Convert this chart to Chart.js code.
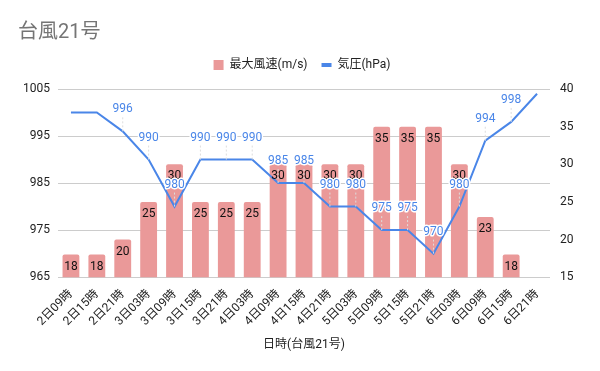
<!DOCTYPE html>
<html lang="ja">
<head>
  <meta charset="UTF-8" />
  <title>台風21号</title>
  <script src="https://cdn.jsdelivr.net/npm/chart.js"></script>
  <style>
    * { margin: 0; padding: 0; box-sizing: border-box; }
    body { background: #fff; width: 600px; height: 371px; overflow: hidden; }
    .chart-container { position: relative; width: 600px; height: 371px; }
  </style>
</head>
<body>
  <div class="chart-container">
    <canvas id="typhoonChart"></canvas>
  </div>

  <script>
    // 日時ラベル
    const timeLabels = [
      '2日09時', '2日15時', '2日21時', '3日03時', '3日09時', '3日15時', '3日21時',
      '4日03時', '4日09時', '4日15時', '4日21時', '5日03時', '5日09時', '5日15時',
      '5日21時', '6日03時', '6日09時', '6日15時', '6日21時'
    ];
    // 最大風速(m/s)
    const windSpeed = [18, 18, 20, 25, 30, 25, 25, 25, 30, 30, 30, 30, 35, 35, 35, 30, 23, 18, null];
    // 気圧(hPa)
    const pressure = [1000, 1000, 996, 990, 980, 990, 990, 990, 985, 985, 980, 980, 975, 975, 970, 980, 994, 998, 1004];
    // ラベルを表示しない気圧の点
    const hiddenPressureLabels = [0, 1, 18];
    // 目盛り
    const pressureTicks = [965, 975, 985, 995, 1005];
    const windTicks = [15, 20, 25, 30, 35, 40];

    const FONT = "Roboto, 'Noto Sans CJK JP', sans-serif";
    const BAR_COLOR = '#ea9999';
    const LINE_COLOR = '#4a86e8';

    // 値ラベルを描く簡単なプラグイン
    const valueLabels = {
      id: 'valueLabels',
      afterDatasetsDraw(chart) {
        const ctx = chart.ctx;
        ctx.save();
        ctx.font = '12px ' + FONT;
        ctx.textAlign = 'center';
        ctx.textBaseline = 'middle';

        // 棒のラベル
        chart.getDatasetMeta(0).data.forEach((bar, i) => {
          if (windSpeed[i] == null) return;
          ctx.fillStyle = '#111';
          ctx.fillText(windSpeed[i], bar.x, bar.y + 12);
        });

        // 折れ線のラベル
        chart.getDatasetMeta(1).data.forEach((pt, i) => {
          if (hiddenPressureLabels.includes(i)) return;
          ctx.strokeStyle = '#ddd';
          ctx.lineWidth = 1;
          ctx.setLineDash([2, 2]);
          ctx.beginPath();
          ctx.moveTo(pt.x, pt.y - 14);
          ctx.lineTo(pt.x, pt.y);
          ctx.stroke();
          ctx.setLineDash([]);
          ctx.lineWidth = 3;
          ctx.strokeStyle = '#fff';
          ctx.lineJoin = 'round';
          ctx.strokeText(pressure[i], pt.x, pt.y - 22);
          ctx.fillStyle = LINE_COLOR;
          ctx.fillText(pressure[i], pt.x, pt.y - 22);
        });
        ctx.restore();
      }
    };

    // 凡例の下に余白を足す
    const legendGap = {
      id: 'legendGap',
      beforeInit(chart) {
        const fit = chart.legend.fit;
        chart.legend.fit = function () {
          fit.bind(chart.legend)();
          this.height += 8;
        };
      }
    };

    new Chart(document.getElementById('typhoonChart'), {
      data: {
        labels: timeLabels,
        datasets: [
          {
            type: 'bar',
            label: '最大風速(m/s)',
            data: windSpeed,
            yAxisID: 'y1',
            backgroundColor: BAR_COLOR,
            borderRadius: { topLeft: 2, topRight: 2 },
            borderSkipped: 'start',
            categoryPercentage: 1,
            barPercentage: 0.65,
            order: 2
          },
          {
            type: 'line',
            label: '気圧(hPa)',
            data: pressure,
            yAxisID: 'y',
            borderColor: LINE_COLOR,
            backgroundColor: LINE_COLOR,
            borderWidth: 2,
            pointRadius: 0,
            tension: 0,
            order: 1
          }
        ]
      },
      options: {
        responsive: true,
        maintainAspectRatio: false,
        animation: false,
        layout: { padding: { left: 18, right: 14, top: 14, bottom: 15 } },
        plugins: {
          title: {
            display: true,
            text: '台風21号',
            align: 'start',
            color: '#757575',
            font: { family: FONT, size: 20, weight: 'normal' },
            padding: { top: 7, bottom: 0 }
          },
          legend: {
            position: 'top',
            labels: {
              color: '#222',
              font: { family: FONT, size: 12 },
              boxWidth: 10,
              boxHeight: 10,
              pointStyleWidth: 10,
              padding: 14,
              usePointStyle: true,
              sort: (a, b) => a.datasetIndex - b.datasetIndex,
              generateLabels(chart) {
                const items = Chart.defaults.plugins.legend.labels.generateLabels(chart);
                items.forEach(item => {
                  if (item.datasetIndex === 0) {
                    item.pointStyle = 'rect';
                    item.lineWidth = 0;
                  } else {
                    item.pointStyle = 'line';
                    item.lineWidth = 4;
                    item.strokeStyle = LINE_COLOR;
                  }
                });
                return items;
              }
            }
          },
          tooltip: { enabled: false }
        },
        scales: {
          x: {
            grid: { display: false },
            border: { display: false },
            ticks: {
              color: '#222',
              font: { family: FONT, size: 12 },
              maxRotation: 45,
              minRotation: 45,
              autoSkip: false,
              padding: 2
            },
            title: {
              display: true,
              text: '日時(台風21号)',
              color: '#222',
              font: { family: FONT, size: 12 },
              padding: { top: 7 }
            }
          },
          y: {
            position: 'left',
            min: pressureTicks[0],
            max: pressureTicks[pressureTicks.length - 1],
            afterBuildTicks(axis) { axis.ticks = pressureTicks.map(v => ({ value: v })); },
            afterFit(axis) { axis.width = 40; },
            grid: { color: '#ccc', drawTicks: false },
            border: { display: false },
            ticks: {
              color: '#222',
              font: { family: FONT, size: 12 },
              padding: 8,
              callback: v => String(v)
            }
          },
          y1: {
            position: 'right',
            min: windTicks[0],
            max: windTicks[windTicks.length - 1],
            afterBuildTicks(axis) { axis.ticks = windTicks.map(v => ({ value: v })); },
            afterFit(axis) { axis.width = 36; },
            grid: { display: false, drawTicks: false },
            border: { display: false },
            ticks: {
              color: '#222',
              font: { family: FONT, size: 12 },
              padding: 10,
              callback: v => String(v)
            }
          }
        }
      },
      plugins: [valueLabels, legendGap]
    });
  </script>
</body>
</html>
